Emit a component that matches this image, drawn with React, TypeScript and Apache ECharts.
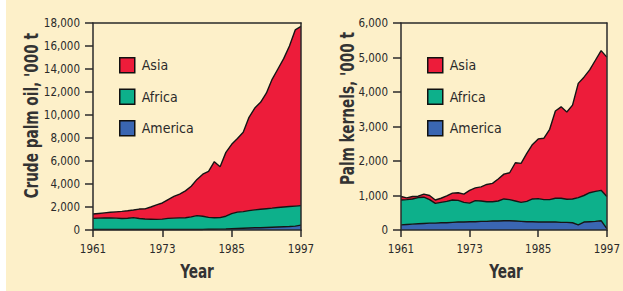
import React, { useEffect, useRef } from 'react';
import * as echarts from 'echarts';

const years = [
  '1961','1962','1963','1964','1965','1966','1967','1968','1969','1970',
  '1971','1972','1973','1974','1975','1976','1977','1978','1979','1980',
  '1981','1982','1983','1984','1985','1986','1987','1988','1989','1990',
  '1991','1992','1993','1994','1995','1996','1997',
];

// Crude palm oil, '000 t
const oilAmerica = [40,40,40,40,40,40,40,40,40,40,40,40,40,40,40,50,50,50,50,50,60,70,80,90,110,130,150,170,190,200,220,240,260,280,300,340,420];
const oilAfrica = [970,990,1000,1000,990,960,980,1040,960,920,900,880,910,970,990,1000,1020,1090,1200,1150,1040,1000,1000,1110,1310,1420,1450,1510,1560,1600,1630,1660,1700,1720,1740,1740,1700];
const oilAsia = [380,410,450,500,550,620,650,660,820,880,1060,1260,1400,1640,1890,2070,2330,2660,3150,3650,4000,4870,4420,5550,6030,6400,6900,8120,8850,9300,10050,11200,12040,12900,13960,15320,15580];

// Palm kernels, '000 t
const kernelAmerica = [150,160,170,180,190,200,200,210,210,220,230,230,240,240,250,250,260,260,270,270,260,250,240,240,230,230,230,230,220,220,210,150,230,240,250,270,40];
const kernelAfrica = [720,720,730,760,760,680,570,590,620,650,630,570,540,610,590,570,560,580,630,610,580,550,590,660,680,650,650,690,700,670,690,790,770,840,870,880,930];
const kernelAsia = [100,50,70,40,90,120,100,120,160,200,220,240,370,370,410,500,530,640,720,780,1110,1130,1390,1580,1730,1780,2040,2530,2650,2530,2720,3310,3430,3560,3800,4050,4040];

const regions = ['Asia', 'Africa', 'America'];
const COLORS: Record<string, string> = { Asia: '#ED1C3A', Africa: '#0DB08B', America: '#3A66B2' };
const CREAM = '#FDF0C9';
const INK = '#2a2a2a';
const FONT = "'DejaVu Sans Condensed', 'Liberation Sans', sans-serif";

const tickEvery12 = (i: number) => i % 12 === 0;

function areaSeries(name: string, data: number[], gi: number, stack: string) {
  return {
    name,
    type: 'line',
    stack,
    xAxisIndex: gi,
    yAxisIndex: gi,
    data,
    symbol: 'none',
    showSymbol: false,
    lineStyle: { color: '#151515', width: 1.4 },
    areaStyle: { color: COLORS[name], opacity: 1 },
    itemStyle: { color: COLORS[name] },
  };
}

function bottomX(gi: number) {
  return {
    type: 'category',
    gridIndex: gi,
    data: years,
    boundaryGap: false,
    z: 10,
    axisLine: { onZero: false, lineStyle: { color: INK, width: 1.5 } },
    axisTick: { interval: tickEvery12, length: 7, lineStyle: { color: INK, width: 1.5 } },
    axisLabel: { interval: tickEvery12, fontFamily: FONT, fontSize: 11.5, color: INK, margin: 13 },
    splitLine: { show: false },
  };
}

function topX(gi: number) {
  return {
    type: 'category',
    gridIndex: gi,
    position: 'top',
    data: years,
    boundaryGap: false,
    z: 10,
    axisLine: { onZero: false, lineStyle: { color: INK, width: 1.5 } },
    axisTick: { show: false },
    axisLabel: { show: false },
    splitLine: { show: false },
  };
}

function leftY(gi: number, max: number, interval: number) {
  return {
    type: 'value',
    gridIndex: gi,
    min: 0,
    max,
    interval,
    z: 10,
    axisLine: { show: true, onZero: false, lineStyle: { color: INK, width: 1.5 } },
    axisTick: { show: true, length: 8, lineStyle: { color: INK, width: 1.5 } },
    axisLabel: {
      fontFamily: FONT,
      fontSize: 11.5,
      color: INK,
      margin: 13,
      formatter: (v: number) => v.toLocaleString('en-US'),
    },
    splitLine: { show: false },
  };
}

function rightY(gi: number, max: number) {
  return {
    type: 'value',
    gridIndex: gi,
    position: 'right',
    min: 0,
    max,
    z: 10,
    axisLine: { show: true, onZero: false, lineStyle: { color: INK, width: 1.5 } },
    axisTick: { show: false },
    axisLabel: { show: false },
    splitLine: { show: false },
  };
}

function legendAt(left: number) {
  return {
    data: regions,
    left,
    top: 52,
    orient: 'vertical',
    icon: 'rect',
    itemWidth: 15,
    itemHeight: 15,
    itemGap: 15,
    selectedMode: false,
    itemStyle: { borderColor: '#111', borderWidth: 1.5 },
    textStyle: { fontFamily: FONT, fontSize: 14, color: INK, lineHeight: 15, padding: [0, 0, 0, 2] },
  };
}

function titleText(text: string, x: number, y: number, rotated: boolean) {
  return {
    type: 'text',
    x,
    y,
    rotation: rotated ? Math.PI / 2 : 0,
    scaleX: 0.8,
    silent: true,
    style: {
      text,
      fontFamily: FONT,
      fontSize: 19,
      fontWeight: 'bold',
      fill: '#333',
      align: rotated ? 'right' : 'center',
      verticalAlign: 'middle',
    },
  };
}

export default function App() {
  const ref = useRef<HTMLDivElement>(null);

  useEffect(() => {
    if (!ref.current) return;
    const chart = echarts.init(ref.current, null, { renderer: 'svg' });
    chart.setOption({
      animation: false,
      backgroundColor: CREAM,
      grid: [
        { left: 93, top: 23, width: 208, height: 207 },
        { left: 401, top: 23, width: 207, height: 207 },
      ],
      xAxis: [bottomX(0), bottomX(1), topX(0), topX(1)],
      yAxis: [leftY(0, 18000, 2000), leftY(1, 6000, 1000), rightY(0, 18000), rightY(1, 6000)],
      legend: [legendAt(114), legendAt(422)],
      series: [
        areaSeries('America', oilAmerica, 0, 'oil'),
        areaSeries('Africa', oilAfrica, 0, 'oil'),
        areaSeries('Asia', oilAsia, 0, 'oil'),
        areaSeries('America', kernelAmerica, 1, 'kernel'),
        areaSeries('Africa', kernelAfrica, 1, 'kernel'),
        areaSeries('Asia', kernelAsia, 1, 'kernel'),
      ],
      graphic: [
        { type: 'rect', x: 0, y: 0, shape: { width: 6, height: 291 }, style: { fill: '#ffffff' }, silent: true },
        titleText("Crude palm oil, '000 t", 31, 33, true),
        titleText("Palm kernels, '000 t", 347, 32, true),
        titleText('Year', 197, 271, false),
        titleText('Year', 506, 271, false),
      ],
    });
    return () => chart.dispose();
  }, []);

  return <div ref={ref} style={{ position: 'fixed', left: 0, top: 0, width: 623, height: 291 }} />;
}
